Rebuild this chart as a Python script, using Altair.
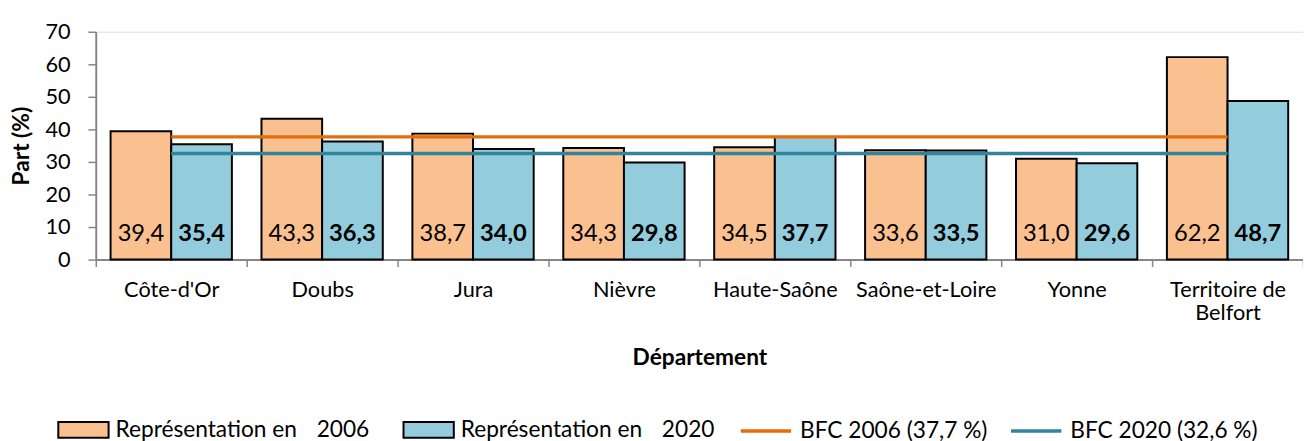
import altair as alt
import pandas as pd

categories = ["Côte-d'Or", "Doubs", "Jura", "Nièvre", "Haute-Saône",
              "Saône-et-Loire", "Yonne", "Territoire de Belfort"]
values_2006 = [39.4, 43.3, 38.7, 34.3, 34.5, 33.6, 31.0, 62.2]
values_2020 = [35.4, 36.3, 34.0, 29.8, 37.7, 33.5, 29.6, 48.7]
series_names = ["Représentation en\u2003\u20092006", "Représentation en\u2003\u20092020"]
bfc_names = ["BFC 2006 (37,7 %)", "BFC 2020 (32,6 %)"]
bfc_values = [37.7, 32.6]
y_ticks = [0, 10, 20, 30, 40, 50, 60, 70]

FONT = "Lato"

rows = []
for c, a, b in zip(categories, values_2006, values_2020):
    rows.append({"Département": c, "serie": series_names[0], "Part": a,
                 "label": f"{a:.1f}".replace(".", ",")})
    rows.append({"Département": c, "serie": series_names[1], "Part": b,
                 "label": f"{b:.1f}".replace(".", ",")})
df = pd.DataFrame(rows)

df_bfc = pd.DataFrame({
    "Département": [categories[0]] * 2,
    "fin": [categories[-1]] * 2,
    "Part": bfc_values,
    "bfc": bfc_names,
})

x_scale = alt.Scale(domain=categories, paddingInner=0, paddingOuter=0)
x_axis = alt.Axis(
    title="Département", titleFont=FONT, titleFontSize=23, titleFontWeight="bold",
    titleColor="black", titlePadding=23,
    labelFont=FONT, labelFontSize=22, labelColor="black", labelPadding=13,
    labelAngle=0, labelOverlap=False, labelLineHeight=24,
    labelExpr="datum.label == 'Territoire de Belfort' ? ['Territoire de', 'Belfort'] : datum.label",
    tickBand="extent", tickSize=7, tickColor="#868686", tickWidth=1.5,
    domainColor="#868686", domainWidth=2, grid=False,
)


def x_enc():
    return alt.X("Département:N", scale=x_scale, axis=x_axis)


xoff = alt.XOffset("serie:N", sort=series_names,
                   scale=alt.Scale(domain=series_names, paddingInner=0, paddingOuter=0.244))

y_scale = alt.Scale(domain=[0, 70], nice=False, zero=True)
y_axis = alt.Axis(
    title="Part (%)", titleFont=FONT, titleFontSize=23, titleFontWeight="bold",
    titleColor="black", titlePadding=12,
    values=y_ticks, labelOverlap=False,
    labelFont=FONT, labelFontSize=22, labelColor="black", labelPadding=18,
    tickSize=8, tickColor="#868686", tickWidth=1.5,
    domainColor="#868686", domainWidth=2, grid=False,
)

bars = alt.Chart(df).mark_bar(stroke="black", strokeWidth=2).encode(
    x=x_enc(),
    xOffset=xoff,
    y=alt.Y("Part:Q", scale=y_scale, axis=y_axis),
    fill=alt.Fill(
        "serie:N", sort=series_names,
        scale=alt.Scale(domain=series_names, range=["#FAC090", "#93CDDD"]),
        legend=alt.Legend(
            title=None, orient="none", legendX=-39, legendY=377,
            direction="horizontal",
            symbolType="M-1,-0.314H1V0.314H-1Z", symbolSize=2601,
            symbolStrokeColor="black", symbolStrokeWidth=2, symbolOpacity=1,
            labelFont=FONT, labelFontSize=23, labelColor="black", labelLimit=500,
            labelOffset=6, columnPadding=30, padding=0,
        ),
    ),
)

rules = alt.Chart(df_bfc).mark_rule(strokeWidth=3.5).encode(
    x=x_enc(),
    x2="fin:N",
    y=alt.Y("Part:Q", scale=y_scale, axis=y_axis),
    stroke=alt.Stroke(
        "bfc:N", sort=bfc_names,
        scale=alt.Scale(domain=bfc_names, range=["#E46C0A", "#31849B"]),
        legend=alt.Legend(
            title=None, orient="none", legendX=652, legendY=377,
            direction="horizontal",
            symbolType="stroke", symbolSize=2601, symbolStrokeWidth=3.5,
            labelFont=FONT, labelFontSize=23, labelColor="black", labelLimit=500,
            labelOffset=7, columnPadding=16, padding=0,
        ),
    ),
)


def text_layer(name, weight):
    return alt.Chart(df).transform_filter(
        alt.datum.serie == name
    ).mark_text(font=FONT, fontSize=24, fontWeight=weight, color="black",
                baseline="alphabetic").encode(
        x=x_enc(),
        xOffset=xoff,
        y=alt.YDatum(5.8, type="quantitative", scale=y_scale, axis=y_axis),
        text="label:N",
    )


chart = alt.layer(
    bars, rules, text_layer(series_names[0], "normal"), text_layer(series_names[1], "bold")
).properties(
    width=1224, height=231,
    autosize=alt.AutoSizeParams(type="none"),
    padding={"left": 89, "top": 21, "right": 0, "bottom": 190},
).configure_view(stroke=None).configure(font=FONT)

chart.save("out.html", embed_options={"renderer": "svg", "actions": False})
